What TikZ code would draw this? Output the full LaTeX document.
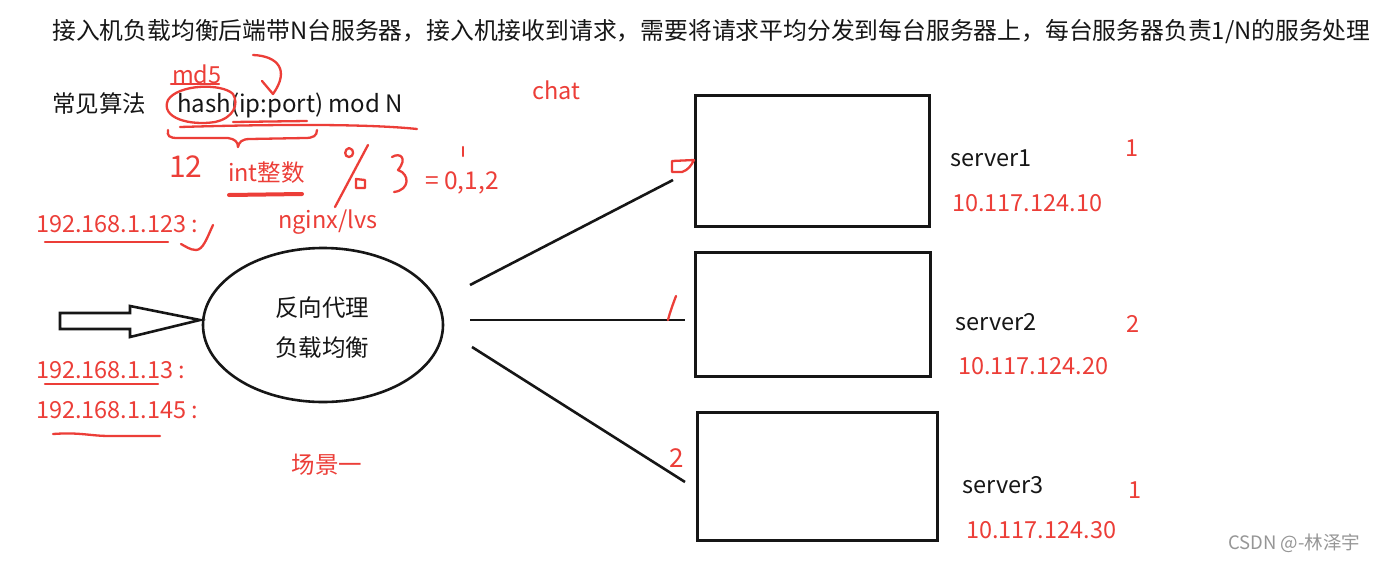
\documentclass[tikz,border=0pt]{standalone}
\usepackage{fontspec}
\setmainfont{Noto Sans CJK SC}
\usetikzlibrary{shapes.geometric}
\definecolor{pen}{RGB}{236,62,56}
\definecolor{ink}{RGB}{22,22,22}
\definecolor{mark}{RGB}{150,150,150}
\tikzset{
  txt/.style={font=\fontsize{23.5}{28}\selectfont, inner sep=0pt, anchor=west, text=ink},
  rtxt/.style={txt, text=pen},
  hand/.style={draw=pen, line width=2.3pt, line cap=round, line join=round},
  thin/.style={draw=ink, line width=2.6pt},
  serverbox/.style={draw=ink, line width=3pt, inner sep=0pt},
}
\begin{document}
\begin{tikzpicture}[x=1pt,y=-1pt]
\useasboundingbox[fill=white] (0,0) rectangle (1379,560);

% title and formula
\node[txt, font=\fontsize{23.8}{28}\selectfont] (title) at (52,32) {接入机负载均衡后端带N台服务器，接入机接收到请求，需要将请求平均分发到每台服务器上，每台服务器负责1/N的服务处理};
\node[txt] (algo) at (52,104) {常见算法};
\node[txt, font=\fontsize{24}{28}\selectfont] (hash) at (177,105) {hash(ip:port) mod N};
\node[rtxt] (md5) at (172,74) {md5};
\node[rtxt] (chat) at (532,90) {chat};
\node[rtxt, font=\fontsize{30}{32}\selectfont] (twelve) at (169,167) {12};
\node[rtxt] (int) at (228,173) {int整数};
\node[rtxt, font=\fontsize{24.5}{28}\selectfont] (eq) at (425,183) {= 0,1,2};
\node[rtxt] (ip1) at (36,224) {192.168.1.123 :};
\node[rtxt] (nginx) at (278,222) {nginx/lvs};

% red annotations near formula
\draw[hand] (171,84) -- (219,84);
\draw[hand] (233,94) .. controls (222,83) and (178,84) .. (168,100) .. controls (160,118) and (190,126) .. (215,122) .. controls (234,118) and (239,104) .. (233,94);
\draw[hand] (253,55) .. controls (278,56) and (290,70) .. (273,94) -- (262,81);
\draw[hand] (233,122) -- (307,121);
\draw[hand] (180,127) .. controls (280,124) and (370,124) .. (417,129);
\draw[hand] (168,130) .. controls (167,136) and (169,138) .. (178,138) -- (228,138) .. controls (235,139) and (238,142) .. (238,147) .. controls (239,142) and (242,139) .. (250,139) -- (305,138) .. controls (313,138) and (317,136) .. (317,130);
\draw[hand, line width=4pt] (229,195) -- (302,194);
\draw[hand] (368,145) -- (335,207);
\draw[hand] (349,148) .. controls (344,149) and (344,157) .. (349,157) .. controls (354,157) and (355,149) .. (349,148);
\draw[hand] (356,179) -- (356,188) -- (365,188) -- (365,180) -- cycle;
\draw[hand] (392,157) .. controls (400,152) and (408,158) .. (398,170) .. controls (410,174) and (410,190) .. (394,192);
\draw[hand] (463,147) -- (463,156);
\draw[hand] (213,225) .. controls (207,238) and (203,250) .. (196,250) .. controls (190,250) and (185,246) .. (181,244);

% IP underlines and labels
\draw[hand] (45,242) -- (168,242);
\node[rtxt] (ip2) at (36,370) {192.168.1.13 :};
\draw[hand] (45,384) -- (158,384);
\node[rtxt] (ip3) at (36,410) {192.168.1.145 :};
\draw[hand] (53,434) .. controls (80,432) and (90,436) .. (110,436) -- (160,436);
\node[rtxt, anchor=center] (scene) at (327,465) {场景一};

% load balancer
\node[ellipse, draw=ink, line width=2.6pt, minimum width=240, minimum height=154, inner sep=0pt] (lb) at (323,325) {};
\node[txt, anchor=center] (lbt1) at (322,308) {反向代理};
\node[txt, anchor=center] (lbt2) at (322,348) {负载均衡};

% input hollow arrow
\draw[draw=ink, line width=2.6pt, line join=miter] (60,313) -- (130,313) -- (130,306) -- (200,320) -- (130,337) -- (130,329) -- (60,329) -- cycle;

% servers
\node[serverbox, minimum width=234, minimum height=131] (s1) at (812,161) {};
\node[serverbox, minimum width=235, minimum height=124] (s2) at (812.5,314) {};
\node[serverbox, minimum width=240, minimum height=128] (s3) at (817,476) {};

% connectors
\coordinate (a1) at (470,285);
\coordinate (b1) at (673,180);
\coordinate (a2) at (470,320);
\coordinate (b2) at (685,320);
\coordinate (a3) at (472,347);
\coordinate (b3) at (685,482);
\draw[thin] (a1) -- (b1);
\draw[thin] (a2) -- (b2);
\draw[thin] (a3) -- (b3);

% red index marks
\draw[hand] (672,161) -- (694,160) .. controls (691,166) and (688,170) .. (682,172) -- (672,172) -- cycle;
\draw[hand] (676,296) .. controls (673,304) and (670,312) .. (668,320);
\node[rtxt, anchor=center, font=\fontsize{26}{28}\selectfont] (two) at (677,458) {2};

% server labels
\node[txt] (n1) at (950,158) {server1};
\node[rtxt] (ipA) at (952,203) {10.117.124.10};
\node[rtxt] (w1) at (1125,148) {1};
\node[txt] (n2) at (955,322) {server2};
\node[rtxt] (ipB) at (958,366) {10.117.124.20};
\node[rtxt] (w2) at (1126,324) {2};
\node[txt] (n3) at (962,485) {server3};
\node[rtxt] (ipC) at (966,530) {10.117.124.30};
\node[rtxt] (w3) at (1128,490) {1};

\node[txt, text=mark, font=\fontsize{18.5}{20}\selectfont] (wm) at (1228,543) {CSDN @-林泽宇};
\end{tikzpicture}
\end{document}
